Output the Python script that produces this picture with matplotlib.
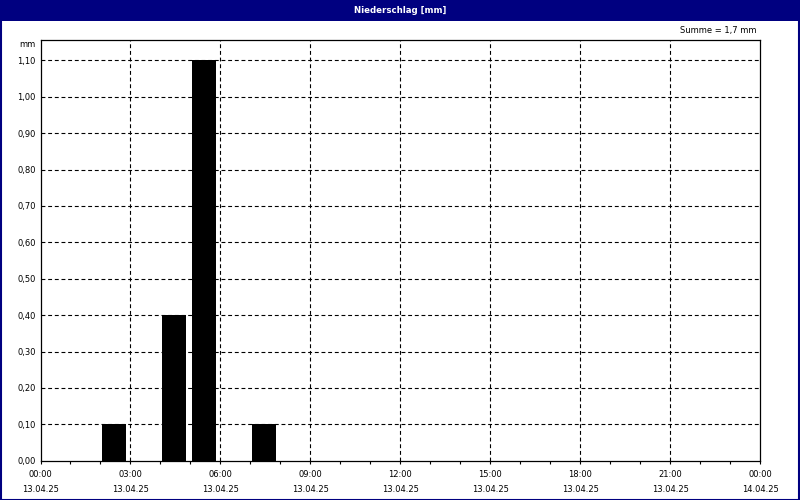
import matplotlib
matplotlib.use("Agg")
import matplotlib.pyplot as plt
from matplotlib.patches import Rectangle
import numpy as np

# Data: hourly precipitation on 13.04.25 (hour start -> mm)
hours = list(range(24))
precip = [0.0, 0.0, 0.1, 0.0, 0.4, 1.1, 0.0, 0.1, 0.0, 0.0, 0.0, 0.0,
          0.0, 0.0, 0.0, 0.0, 0.0, 0.0, 0.0, 0.0, 0.0, 0.0, 0.0, 0.0]
xtick_hours = [0, 3, 6, 9, 12, 15, 18, 21, 24]
xtick_labels = ["00:00\n13.04.25", "03:00\n13.04.25", "06:00\n13.04.25",
                "09:00\n13.04.25", "12:00\n13.04.25", "15:00\n13.04.25",
                "18:00\n13.04.25", "21:00\n13.04.25", "00:00\n14.04.25"]
yticks = [round(0.1 * i, 2) for i in range(12)]
title = "Niederschlag [mm]"
unit = "mm"

navy = "#000080"
plt.rcParams['font.family'] = ['DejaVu Sans']
fs = 6

fig = plt.figure(figsize=(8, 5), dpi=100)
fig.patch.set_facecolor("white")

# title bar and border
fig.patches.append(Rectangle((0, 1 - 20.5 / 500), 1, 20.5 / 500, transform=fig.transFigure,
                             facecolor=navy, edgecolor="none", zorder=0))
fig.patches.append(Rectangle((0.5 / 800, 0.5 / 500), 1 - 1.5 / 800, 1 - 1.5 / 500,
                             transform=fig.transFigure, facecolor="none",
                             edgecolor=navy, linewidth=1.5, zorder=5))
fig.text(0.5, 1 - 10.5 / 500, title, color="white", fontsize=6.2, fontweight="bold",
         ha="center", va="center")

ax = fig.add_axes([40.5 / 800, 1 - 460.7 / 500, 719.5 / 800, 420.4 / 500])
left_edges = [h + 0.06 for h in hours]
vals = np.array(precip)
ax.bar(left_edges, vals, width=0.8, align="edge", color="black", edgecolor="none", zorder=3)

ax.set_xlim(0, 24)
ax.set_ylim(0, 1.155)

ax.set_xticks(xtick_hours)
ax.set_xticklabels(xtick_labels, fontsize=fs, linespacing=1.85)
ax.set_xticks(hours, minor=True)
ax.set_yticks(yticks)
ax.set_yticklabels([f"{v:.2f}".replace(".", ",") for v in yticks], fontsize=fs)

ax.tick_params(axis="x", which="both", direction="out", length=2.5, width=0.8, pad=4, colors="black")
ax.tick_params(axis="y", which="both", length=0, pad=3.5)

for s in ax.spines.values():
    s.set_linewidth(0.9)
    s.set_color("black")

ls = (0, (3.5, 2.5))
for h in xtick_hours[1:-1]:
    ax.axvline(h, color="black", linewidth=0.8, linestyle=ls, zorder=2)
for y in yticks[1:]:
    ax.axhline(y, color="black", linewidth=0.8, linestyle=ls, zorder=2)

fig.text(36 / 800, 1 - 44.5 / 500, unit, fontsize=fs, ha="right", va="center")
total = sum(precip)
fig.text(756 / 800, 1 - 31 / 500, f"Summe = {total:.1f} mm".replace(".", ","),
         fontsize=fs, ha="right", va="center")

fig.savefig("out.png", dpi=100, facecolor="white")
